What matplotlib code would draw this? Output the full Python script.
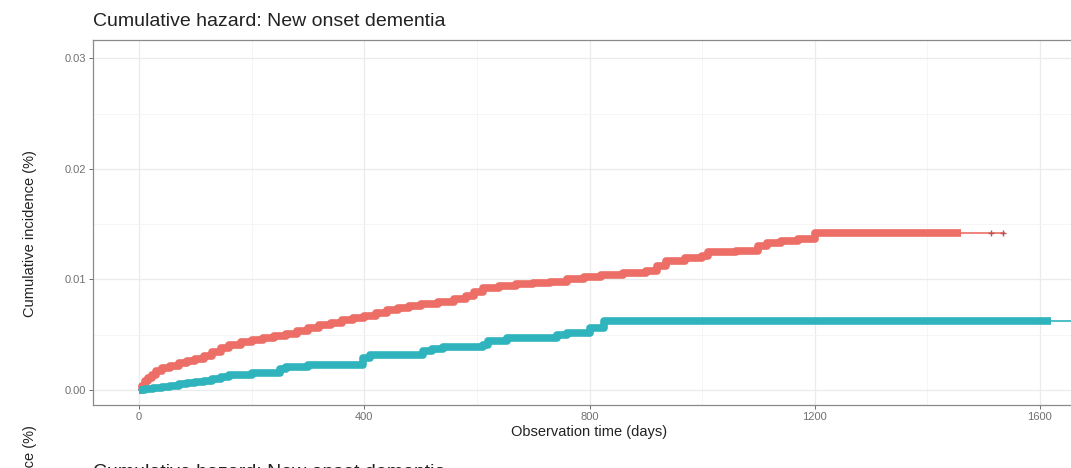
import numpy as np
import matplotlib.pyplot as plt
from matplotlib.ticker import MultipleLocator

plt.rcParams["font.family"] = ["Liberation Sans", "DejaVu Sans"]

# step estimates (days, cumulative incidence)
red_t = [0, 5, 10, 15, 22, 30, 40, 55, 70, 85, 100, 115, 130, 145, 160, 180, 200, 220,
         240, 260, 280, 300, 320, 340, 360, 380, 400, 420, 440, 460, 480, 500, 530, 560,
         580, 595, 610, 640, 670, 700, 730, 760, 790, 820, 860, 900, 920, 935, 970, 1000,
         1010, 1060, 1100, 1115, 1140, 1170, 1200]
red_v = [0, 0.0004, 0.0008, 0.0011, 0.0014, 0.0017, 0.0020, 0.0022, 0.0024, 0.0026,
         0.0028, 0.0031, 0.0034, 0.0038, 0.0041, 0.0043, 0.0045, 0.0047, 0.0049, 0.0051,
         0.0053, 0.0056, 0.0059, 0.0061, 0.0063, 0.0065, 0.0067, 0.0070, 0.0072, 0.0074,
         0.0076, 0.0078, 0.0080, 0.0082, 0.0085, 0.0089, 0.0092, 0.0094, 0.0096, 0.0097,
         0.0098, 0.0100, 0.0102, 0.0104, 0.0106, 0.0108, 0.0112, 0.0117, 0.0119, 0.0121,
         0.0125, 0.0126, 0.0130, 0.0133, 0.0135, 0.0137, 0.0142]
teal_t = [0, 10, 25, 40, 55, 70, 85, 100, 115, 130, 145, 160, 200, 250, 260, 300, 398,
          410, 505, 520, 540, 610, 620, 654, 742, 760, 800, 825]
teal_v = [0, 0.0001, 0.0002, 0.0003, 0.0004, 0.0005, 0.0006, 0.0007, 0.0008, 0.0010,
          0.0012, 0.0014, 0.0015, 0.0019, 0.0021, 0.0023, 0.0029, 0.0032, 0.0035, 0.0037,
          0.0039, 0.0041, 0.0044, 0.0047, 0.0050, 0.0052, 0.0056, 0.0062]

# where dense censoring marks stop, where follow-up ends, sparse censor marks
red_dense_end, red_end = 1459, 1536
red_marks = [1513, 1534]
teal_dense_end, teal_end = 1620, 1700

title = "Cumulative hazard: New onset dementia"
xlab = "Observation time (days)"
ylab = "Cumulative incidence (%)"

red = "#EC6E66"
teal = "#2FB4BD"


def step_to(t, v, end):
    t = np.asarray(t, float)
    v = np.asarray(v, float)
    keep = t < end
    return np.append(t[keep], end), np.append(v[keep], v[keep][-1])


W, H = 1071, 468
fig = plt.figure(figsize=(W / 100, H / 100), dpi=100)
ax = fig.add_axes([93 / W, 1 - 405 / H, (1085 - 93) / W, (405 - 40) / H])

for t, v, dense, end, col in [(red_t, red_v, red_dense_end, red_end, red),
                              (teal_t, teal_v, teal_dense_end, teal_end, teal)]:
    x, y = step_to(t, v, end)
    ax.step(x, y, where="post", color=col, lw=1.2, zorder=3)
    x, y = step_to(t, v, dense)
    ax.step(x, y, where="post", color=col, lw=5.5, solid_capstyle="butt",
            solid_joinstyle="round", zorder=3)

ax.plot(red_marks, [red_v[-1]] * len(red_marks), "+", color="#B8554F", ms=5, mew=1, zorder=4)

ax.set_xlim(-82, 1680)
ax.set_ylim(-0.00136, 0.03167)
ax.xaxis.set_major_locator(MultipleLocator(400))
ax.xaxis.set_minor_locator(MultipleLocator(200))
ax.yaxis.set_minor_locator(MultipleLocator(0.005))
ax.set_yticks([0, 0.01, 0.02, 0.03], ["0.00", "0.01", "0.02", "0.03"])

ax.grid(which="major", color="#EBEBEB", lw=0.9)
ax.grid(which="minor", color="#F4F4F4", lw=0.6)
ax.set_axisbelow(True)
ax.tick_params(which="major", length=3, width=0.6, color="#555555",
               labelsize=8, labelcolor="#707070", pad=2)
ax.tick_params(which="minor", length=0)
for s in ax.spines.values():
    s.set_color("#8A8A8A")
    s.set_linewidth(0.9)

ax.set_xlabel(xlab, fontsize=10.5, color="#222222", labelpad=2)
ax.set_ylabel(ylab, fontsize=10.5, color="#222222")
ax.yaxis.set_label_coords(37 / W, 1 - 234 / H, transform=fig.transFigure)
fig.text(93 / W, 1 - 21 / H, title, fontsize=14, color="#222222", va="center")

# top of the next panel, cut off by the picture edge
fig.text(93 / W, 1 - 464 / H, title, fontsize=14, color="#222222", va="top")
fig.text(30 / W, 1 - 425 / H, ylab, fontsize=10.5, color="#222222",
         rotation=90, ha="center", va="top")

fig.savefig("out.png", dpi=100)
